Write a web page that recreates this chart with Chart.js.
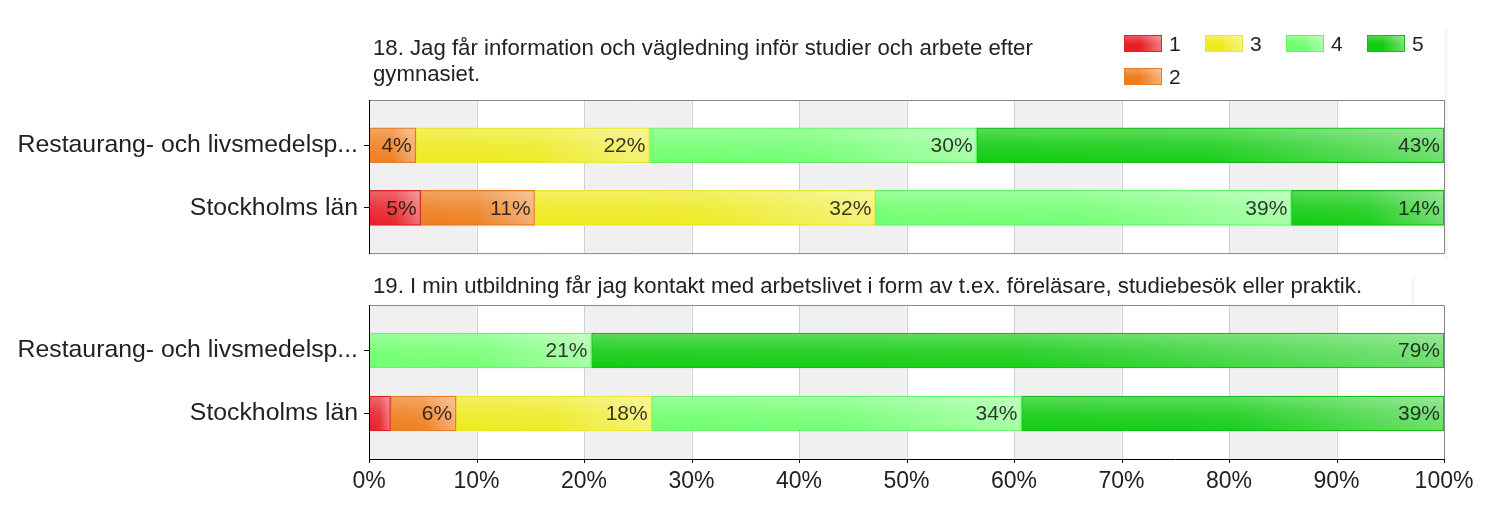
<!DOCTYPE html>
<html>
<head>
<meta charset="utf-8">
<script src="https://cdn.jsdelivr.net/npm/chart.js@4.4.0/dist/chart.umd.min.js"></script>
<style>
  body { margin: 0; background: #fff; }
  #wrap { position: relative; width: 1500px; height: 512px; overflow: hidden; font-family: "Liberation Sans", Arial, sans-serif; }
  canvas { position: absolute; left: 0; }
  .title { position: absolute; left: 373px; font-size: 22.2px; line-height: 26px; color: #222; }
  .shade { position: absolute; width: 3px; background: linear-gradient(to right, #f0f0f0, #fafafa); }
  .lg-box { position: absolute; width: 36px; height: 15px; border: 1px solid; }
  .lg-txt { position: absolute; font-size: 21px; line-height: 17px; color: #222; }
</style>
</head>
<body>
<div id="wrap">
  <div class="shade" style="left:1445px; top:30px; height:228px;"></div>
  <div class="shade" style="left:1412px; top:277px; height:28px;"></div>
  <canvas id="c18" width="1500" height="260" style="top:0"></canvas>
  <canvas id="c19" width="1500" height="252" style="top:260px"></canvas>
  <div class="title" style="top:35px; width:700px;">18. Jag får information och vägledning inför studier och arbete efter gymnasiet.</div>
  <div class="title" style="top:273px; width:1060px;">19. I min utbildning får jag kontakt med arbetslivet i form av t.ex. föreläsare, studiebesök eller praktik.</div>
  <div id="legend"></div>
</div>
<script>
// kategorier och svarsalternativ
var categories = ['Restaurang- och livsmedelsp...', 'Stockholms län'];
var series = ['1', '2', '3', '4', '5'];
var xTicks = [0, 10, 20, 30, 40, 50, 60, 70, 80, 90, 100];

// fråga 18 (procent per svarsalternativ)
var q18_1 = [0, 4.8];
var q18_2 = [4.35, 10.6];
var q18_3 = [21.74, 31.7];
var q18_4 = [30.43, 38.7];
var q18_5 = [43.48, 14.2];

// fråga 19
var q19_1 = [0, 2.0];
var q19_2 = [0, 6.1];
var q19_3 = [0, 18.2];
var q19_4 = [20.7, 34.4];
var q19_5 = [79.3, 39.3];

var colors = ['#e81e25', '#ee7d1c', '#eeea1e', '#70ff70', '#11cc11'];
var borders = ['#d8252b', '#e57d24', '#e8e43a', '#66f066', '#14bb14'];
var FONT = '"Liberation Sans", Arial, sans-serif';
var EXT = 14; // ramen sticker ut ovanför/under kategoriytan

// legend (1 3 4 5 på första raden, 2 under)
var legendPos = [[1124, 35], [1124, 68], [1205, 35], [1286, 35], [1367, 35]];
var legend = document.getElementById('legend');
series.forEach(function(s, i) {
  var box = document.createElement('div');
  box.className = 'lg-box';
  box.style.left = legendPos[i][0] + 'px';
  box.style.top = legendPos[i][1] + 'px';
  box.style.borderColor = borders[i];
  box.style.background = 'linear-gradient(to bottom, rgba(255,255,255,0.25), rgba(255,255,255,0) 55%), linear-gradient(to right, rgba(255,255,255,0), rgba(255,255,255,0) 40%, rgba(255,255,255,0.4)), ' + colors[i];
  legend.appendChild(box);
  var txt = document.createElement('div');
  txt.className = 'lg-txt';
  txt.style.left = (legendPos[i][0] + 45) + 'px';
  txt.style.top = legendPos[i][1] + 'px';
  txt.textContent = s;
  legend.appendChild(txt);
});

function makeDatasets(rows) {
  return rows.map(function(vals, i) {
    return {
      label: series[i],
      data: vals,
      backgroundColor: colors[i],
      borderColor: borders[i],
      borderWidth: 1,
      borderSkipped: false,
      barThickness: 35
    };
  });
}

// grå band, rutnät, glans, procentetiketter och ram
var panelPlugin = {
  id: 'panel',
  beforeDatasetsDraw: function(chart, args, opts) {
    var ctx = chart.ctx, a = chart.chartArea, xs = chart.scales.x;
    var top = a.top - EXT, bottom = a.bottom + EXT;
    ctx.save();
    ctx.fillStyle = '#f0f0f0';
    for (var v = 0; v < 100; v += 20) {
      var x0 = xs.getPixelForValue(v), x1 = xs.getPixelForValue(v + 10);
      ctx.fillRect(x0, top, x1 - x0, bottom - top);
    }
    ctx.lineWidth = 1;
    ctx.strokeStyle = '#d0d0d0';
    xTicks.forEach(function(t) {
      var px = Math.round(xs.getPixelForValue(t)) + 0.5;
      ctx.beginPath(); ctx.moveTo(px, top); ctx.lineTo(px, bottom); ctx.stroke();
    });
    if (opts.xTicks) {
      ctx.strokeStyle = '#000';
      xTicks.forEach(function(t) {
        var px = Math.round(xs.getPixelForValue(t)) + 0.5;
        ctx.beginPath(); ctx.moveTo(px, bottom); ctx.lineTo(px, bottom + 4); ctx.stroke();
      });
    }
    ctx.restore();
  },
  afterDatasetsDraw: function(chart, args, opts) {
    var ctx = chart.ctx, a = chart.chartArea, xs = chart.scales.x;
    var top = a.top - EXT, bottom = a.bottom + EXT;
    var left = Math.round(xs.getPixelForValue(0)), right = Math.round(xs.getPixelForValue(100));
    ctx.save();
    chart.data.datasets.forEach(function(ds, di) {
      chart.getDatasetMeta(di).data.forEach(function(bar, j) {
        var x0 = Math.min(bar.base, bar.x), x1 = Math.max(bar.base, bar.x);
        var w = x1 - x0;
        if (w < 3) return;
        var y0 = bar.y - bar.height / 2, h = bar.height;
        var gh = ctx.createLinearGradient(x0, 0, x1, 0);
        gh.addColorStop(0, 'rgba(255,255,255,0)');
        gh.addColorStop(0.5, 'rgba(255,255,255,0.04)');
        gh.addColorStop(1, 'rgba(255,255,255,0.38)');
        ctx.fillStyle = gh;
        ctx.fillRect(x0 + 1, y0 + 1, w - 2, h - 2);
        var gv = ctx.createLinearGradient(0, y0, 0, y0 + h);
        gv.addColorStop(0, 'rgba(255,255,255,0.3)');
        gv.addColorStop(0.5, 'rgba(255,255,255,0.1)');
        gv.addColorStop(1, 'rgba(255,255,255,0)');
        ctx.fillStyle = gv;
        ctx.fillRect(x0 + 1, y0 + 1, w - 2, h - 2);

        var txt = Math.round(ds.data[j]) + '%';
        ctx.font = '21px ' + FONT;
        if (ctx.measureText(txt).width + 8 > w) return;
        ctx.fillStyle = 'rgba(20,20,20,0.85)';
        ctx.textAlign = 'right';
        ctx.textBaseline = 'middle';
        ctx.fillText(txt, x1 - 4, bar.y + 1);
      });
    });
    ctx.lineWidth = 1;
    ctx.strokeStyle = '#888';
    ctx.beginPath();
    ctx.moveTo(left, top + 0.5); ctx.lineTo(right + 0.5, top + 0.5);
    ctx.lineTo(right + 0.5, bottom + 0.5);
    ctx.stroke();
    ctx.beginPath();
    ctx.moveTo(left, bottom + 0.5); ctx.lineTo(right + 0.5, bottom + 0.5);
    ctx.strokeStyle = opts.xTicks ? '#000' : '#888';
    ctx.stroke();
    ctx.beginPath();
    ctx.moveTo(left + 0.5, top); ctx.lineTo(left + 0.5, bottom + 1);
    ctx.strokeStyle = '#000';
    ctx.stroke();
    ctx.restore();
  }
};

function makeChart(id, rows, showX, padTop, padBottom, xHeight) {
  return new Chart(document.getElementById(id), {
    type: 'bar',
    data: { labels: categories, datasets: makeDatasets(rows) },
    plugins: [panelPlugin],
    options: {
      indexAxis: 'y',
      responsive: false,
      animation: false,
      devicePixelRatio: 1,
      layout: { padding: { left: 0, right: 56, top: padTop, bottom: padBottom } },
      plugins: {
        legend: { display: false },
        tooltip: { enabled: false },
        panel: { xTicks: showX }
      },
      scales: {
        x: {
          type: 'linear',
          stacked: true,
          min: 0,
          max: 100,
          afterBuildTicks: function(s) { s.ticks = xTicks.map(function(v) { return { value: v }; }); },
          afterFit: function(s) { s.height = xHeight; },
          grid: { display: false, drawTicks: false },
          border: { display: false },
          ticks: {
            display: showX,
            padding: EXT + 4 + 5,
            color: '#222',
            font: { family: FONT, size: 23 },
            maxRotation: 0,
            callback: function(v) { return v + '%'; }
          }
        },
        y: {
          type: 'category',
          stacked: true,
          offset: true,
          afterFit: function(s) { s.width = 369; },
          grid: { drawOnChartArea: false, drawTicks: true, tickLength: 5, color: '#000', offset: false },
          border: { display: false },
          ticks: {
            padding: 6,
            color: '#222',
            font: { family: FONT, size: 24.8 }
          }
        }
      }
    }
  });
}

// ram: 100–254 resp. 305–459, kategoriytan 14 px innanför
makeChart('c18', [q18_1, q18_2, q18_3, q18_4, q18_5], false, 100 + EXT, 260 - 254 + EXT, 0);
makeChart('c19', [q19_1, q19_2, q19_3, q19_4, q19_5], true, 305 - 260 + EXT, 0, 252 - (459 - 260) + EXT);
</script>
</body>
</html>
